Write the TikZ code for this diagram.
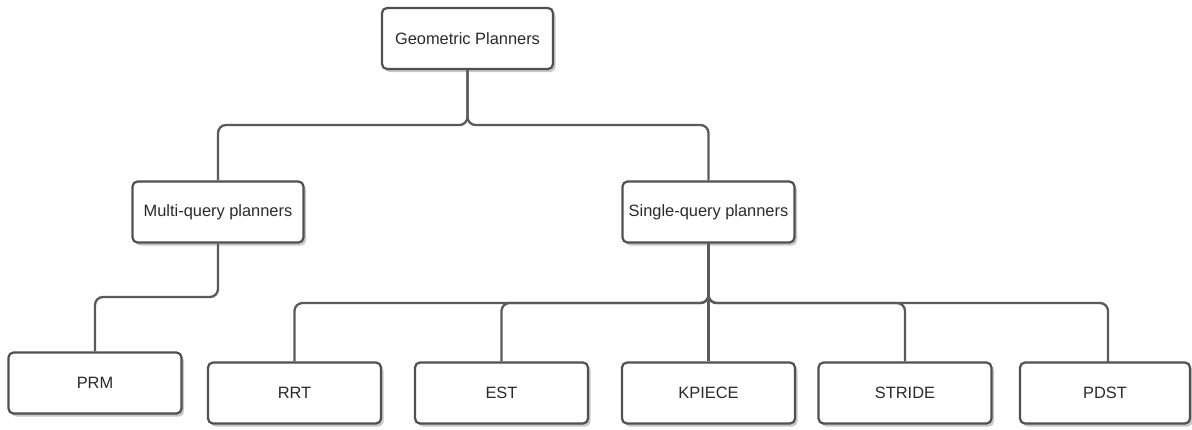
\documentclass[tikz,border=0pt]{standalone}
\usepackage{fontspec}
\setmainfont{Liberation Sans}
\usetikzlibrary{shadows}
\definecolor{boxline}{HTML}{505050}
\definecolor{conn}{HTML}{5A5A5A}
\definecolor{txt}{HTML}{2A2A2A}
\begin{document}
\begin{tikzpicture}[x=1pt,y=-1pt,
  box/.style={draw=boxline, line width=2.2pt, fill=white, rounded corners=5pt,
    minimum width=171pt, minimum height=61pt, inner sep=0pt,
    text=txt, font=\fontsize{16.4}{18}\selectfont,
    drop shadow={shadow xshift=2.5pt, shadow yshift=-3pt, opacity=0.22, fill=black}},
  conn/.style={draw=conn, line width=2.3pt, rounded corners=8pt}]
\useasboundingbox (0,0) rectangle (1192,429);
\node[box] (gp) at (467.5,38.5) {Geometric Planners};
\node[box] (mq) at (218,212) {Multi-query planners};
\node[box, minimum width=172pt] (sq) at (708.5,212) {Single-query planners};
\node[box, minimum width=173pt] (prm) at (95,383) {PRM};
\node[box, minimum width=173pt] (rrt) at (294.5,393) {RRT};
\node[box, minimum width=173pt] (est) at (501.5,393) {EST};
\node[box, minimum width=173pt] (kp) at (708.5,393) {KPIECE};
\node[box, minimum width=173pt] (st) at (905,393) {STRIDE};
\node[box, minimum width=170pt] (pd) at (1105,393) {PDST};
\coordinate (j1) at (467.5,125);
\coordinate (j2) at (708.5,303);
\coordinate (pdt) at (1108,362);
\path[conn] (mq.north) |- (j1) -- (gp.south);
\path[conn] (sq.north) |- (j1) -- (gp.south);
\path[conn] (mq.south) -- (218,297) -- (95,297) -- (prm.north);
\path[conn] (rrt.north) |- (j2) -- (sq.south);
\path[conn] (est.north) |- (j2) -- (sq.south);
\path[conn] (st.north) |- (j2) -- (sq.south);
\path[conn] (pdt) |- (j2) -- (sq.south);
\path[conn] (sq.south) -- (kp.north);
\end{tikzpicture}
\end{document}
